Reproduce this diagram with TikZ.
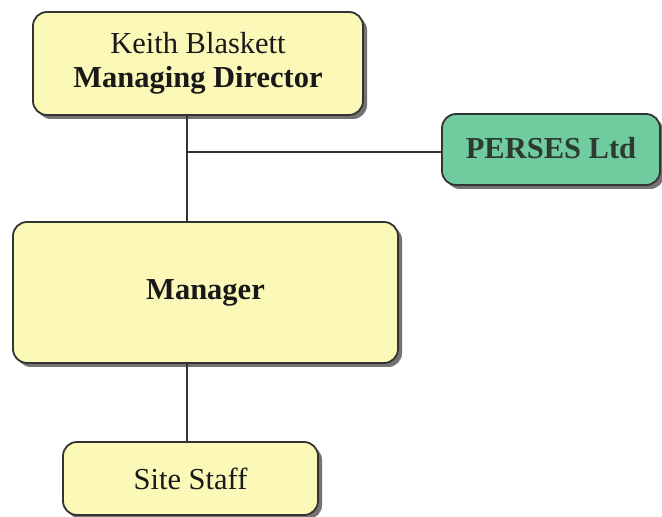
\documentclass[tikz,border=0pt]{standalone}
\usepackage{fontspec}
\setmainfont{Liberation Serif}
\usetikzlibrary{shadows}
\definecolor{boxyellow}{HTML}{FBF8B8}
\definecolor{boxgreen}{HTML}{70CC9E}
\definecolor{edgegray}{HTML}{333333}
\definecolor{greentext}{HTML}{2C3A30}
\tikzset{
  orgbox/.style={draw=edgegray, line width=1.8pt, rounded corners=14pt, inner sep=0pt,
    align=center, font=\fontsize{30.5}{34}\selectfont, text=black!90,
    drop shadow={shadow xshift=4pt, shadow yshift=-4pt, fill=black, opacity=0.55}},
  yellowbox/.style={orgbox, fill=boxyellow},
  greenbox/.style={orgbox, fill=boxgreen, text=greentext},
  link/.style={draw=edgegray, line width=1.5pt}
}
\begin{document}
\begin{tikzpicture}[x=1pt,y=1pt]
\useasboundingbox (0,0) rectangle (662,517);
\node[yellowbox, minimum width=330pt, minimum height=103pt] (md) at (198,453.5)
  {\raisebox{-3pt}{\begin{tabular}{@{}c@{}}Keith Blaskett\\\textbf{Managing Director}\end{tabular}}};
\node[greenbox, minimum width=218pt, minimum height=71pt] (perses) at (551,367.5)
  {\raisebox{3pt}{\textbf{PERSES Ltd}}};
\node[yellowbox, minimum width=385pt, minimum height=141pt] (mgr) at (205.5,224.5)
  {\raisebox{-2pt}{\textbf{Manager}}};
\node[yellowbox, minimum width=255pt, minimum height=73pt] (staff) at (190.5,38.5)
  {Site Staff};
\coordinate (j) at (187,365);
\draw[link] (md.south -| j) -- (mgr.north -| j);
\draw[link] (j) -- (perses.west |- j);
\draw[link] (mgr.south -| j) -- (staff.north -| j);
\end{tikzpicture}
\end{document}
